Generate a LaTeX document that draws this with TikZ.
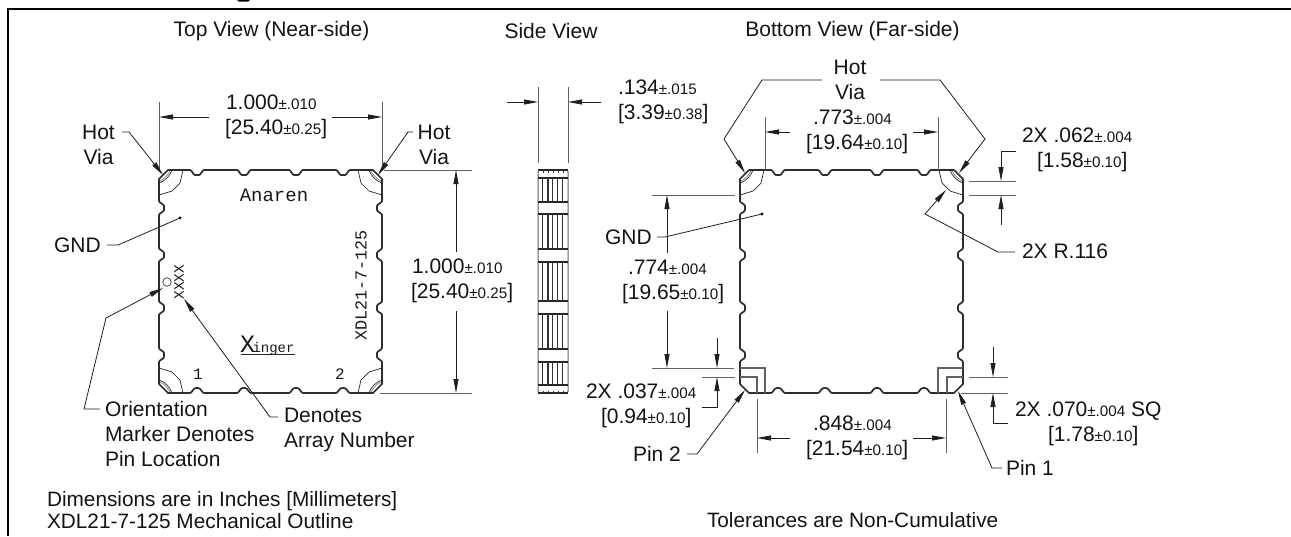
\documentclass[tikz,border=0pt]{standalone}
\usepackage{fontspec}
\usepackage{graphicx}
\usetikzlibrary{arrows.meta}
\setmainfont{Liberation Sans}
\newfontfamily\cadfont{Liberation Mono}
\newcommand{\tol}[2]{#1{\fontsize{15.2}{15}\selectfont ±#2}}
\newcommand{\topn}[1]{-- ({#1-7},0) .. controls ({#1-5},0) and ({#1-4},5) .. ({#1-2},5) -- ({#1+2},5) .. controls ({#1+4},5) and ({#1+5},0) .. ({#1+7},0)}
\newcommand{\rtn}[1]{-- (223,{#1-7}) .. controls (223,{#1-5}) and (218,{#1-4}) .. (218,{#1-2}) -- (218,{#1+2}) .. controls (218,{#1+4}) and (223,{#1+5}) .. (223,{#1+7})}
\newcommand{\botn}[1]{-- ({#1+7},223) .. controls ({#1+5},223) and ({#1+4},218) .. ({#1+1},218) -- ({#1-1},218) .. controls ({#1-4},218) and ({#1-5},223) .. ({#1-7},223)}
\newcommand{\lfn}[1]{-- (0,{#1+7}) .. controls (0,{#1+5}) and (5,{#1+4}) .. (5,{#1+2}) -- (5,{#1-2}) .. controls (5,{#1-4}) and (0,{#1-5}) .. (0,{#1-7})}
\newcommand{\outlinepath}{\draw[edge] (0,9) -- (9,0) \topn{38} \topn{85} \topn{137} \topn{184} -- (214,0) -- (223,9) \rtn{38} \rtn{85} \rtn{138} \rtn{185} -- (223,214) -- (214,223) \botn{184} \botn{137} \botn{85} \botn{38} -- (9,223) -- (0,214) \lfn{185} \lfn{138} \lfn{85} \lfn{38} -- cycle;}
\newcommand{\cornerdetail}{%
  \draw[thinl] (24,0) -- (21,13) -- (13,21) -- (0,25);
  \draw[thinl] (13,0) .. controls (11,6) and (6,11) .. (0,13);
  \draw[thinl,gray] (11,1) .. controls (9,5) and (5,9) .. (1,11);
}
\tikzset{
  edge/.style={draw=black!82,line width=1.7,line join=round},
  thinl/.style={draw=black!85,line width=.7},
  ext/.style={draw=black!62,line width=1},
  lead/.style={draw=black!88,line width=.8},
  arr/.style={lead,-{Triangle[length=14pt,width=5pt]}},
  lab/.style={anchor=west,inner sep=0,outer sep=0,align=left,font=\fontsize{21}{25}\selectfont,text=black!92},
  clab/.style={lab,anchor=center,align=center},
  cad/.style={inner sep=0,outer sep=0,text=black!90},
  band/.style={draw=black!85,line width=1.1},
  stripe/.style={draw=black!80,line width=.9},
}
\begin{document}
\begin{tikzpicture}[x=1pt,y=-1pt]
\useasboundingbox (0,0) rectangle (1291,536);
\fill[white] (0,0) rectangle (1291,536);
% frame
\coordinate (frameBL) at (8,536); \coordinate (frameTL) at (8,9); \coordinate (frameTR) at (1291,9);
\draw[line width=2.6,black] (frameBL) -- (frameTL) -- (frameTR);
\fill[black] (237,0) -- (250,0) -- (248,1.6) -- (239,1.6) -- cycle;
% titles
\node[clab] (tTop) at (271.5,31) {Top View (Near-side)};
\node[clab] (tSide) at (551,31) {Side View};
\node[clab] (tBot) at (852.5,31) {Bottom View (Far-side)};
% top view outline
\begin{scope}[shift={(159,170)}]
 \outlinepath
\end{scope}
\foreach \cx/\cy/\sx/\sy in {159/170/1/1,382/170/-1/1,159/393/1/-1,382/393/-1/-1}{
 \begin{scope}[shift={(\cx,\cy)},xscale=\sx,yscale=\sy]\cornerdetail\end{scope}}
\node[draw=black!80,circle,minimum size=8.5pt,inner sep=0,line width=.7] (orient) at (167,282) {};
\node[cad,font=\cadfont\fontsize{19}{19}\selectfont] (anaren) at (274,195) {Anaren};
\node[cad,font=\cadfont\fontsize{16.8}{17}\selectfont,rotate=90] (xdl) at (361,285.5) {XDL21-7-125};
\node[cad,font=\cadfont\fontsize{14.5}{14}\selectfont,rotate=90] (xxxx) at (179,282) {XXXX};
\node[cad,font=\cadfont\fontsize{16}{16}\selectfont] (one) at (198,374) {1};
\node[cad,font=\cadfont\fontsize{16}{16}\selectfont] (two) at (340,374) {2};
\node[cad,font=\cadfont\fontsize{14}{14}\selectfont,anchor=base west] (xinger) at (240,352.5) {{\fontsize{25}{25}\selectfont X}\kern-2.5pt inger};
\coordinate (ulA) at (241,354.5); \coordinate (ulB) at (295,354.5);
\draw[thinl,line width=.9] (ulA) -- (ulB);
% top view dimensions
\coordinate (e1a) at (159,102); \coordinate (e1b) at (159,170); \draw[ext] (e1a) -- (e1b);
\coordinate (e2a) at (382,102); \coordinate (e2b) at (382,170); \draw[ext] (e2a) -- (e2b);
\coordinate (a1) at (209,117); \coordinate (a1t) at (159,117); \draw[arr] (a1) -- (a1t);
\coordinate (a2) at (332,117); \coordinate (a2t) at (382,117); \draw[arr] (a2) -- (a2t);
\node[lab] (d1) at (225,116.5) {\hspace*{1pt}\tol{1.000}{.010}\\{}[\tol{25.40}{0.25}]};
\coordinate (e3a) at (384,170); \coordinate (e3b) at (472,170); \draw[ext] (e3a) -- (e3b);
\coordinate (e4a) at (380,393); \coordinate (e4b) at (472,393); \draw[ext] (e4a) -- (e4b);
\coordinate (a3) at (456,252); \coordinate (a3t) at (456,170); \draw[arr] (a3) -- (a3t);
\coordinate (a4) at (456,311); \coordinate (a4t) at (456,393); \draw[arr] (a4) -- (a4t);
\node[lab] (d2) at (411,280.5) {\hspace*{1pt}\tol{1.000}{.010}\\{}[\tol{25.40}{0.25}]};
% top view leaders
\node[clab] (hotL) at (98.5,145) {Hot\\Via};
\coordinate (h1) at (122,132); \coordinate (h1b) at (129,132); \coordinate (h1t) at (163,175);
\draw[arr] (h1) -- (h1b) -- (h1t);
\node[clab] (hotR) at (434,145) {Hot\\Via};
\coordinate (h2) at (413,132); \coordinate (h2b) at (408,132); \coordinate (h2t) at (378,175);
\draw[arr] (h2) -- (h2b) -- (h2t);
\node[lab] (gnd1) at (54,245) {GND};
\coordinate (g1) at (107,245); \coordinate (g1b) at (118,245); \coordinate (g1t) at (180,218);
\draw[lead] (g1) -- (g1b) -- (g1t); \fill[black] (g1t) circle (1.6);
\node[lab] (orientL) at (105,434) {Orientation\\Marker Denotes\\Pin Location};
\coordinate (o1) at (100,409); \coordinate (o1b) at (84,409); \coordinate (o1c) at (106,318); \coordinate (o1t) at (163,288);
\draw[arr] (o1) -- (o1b) -- (o1c) -- (o1t);
\node[lab] (denL) at (284,429.5) {Denotes\\Array Number};
\coordinate (n1) at (278,417); \coordinate (n1b) at (270,417); \coordinate (n1t) at (184,299);
\draw[arr] (n1) -- (n1b) -- (n1t);
% side view
\coordinate (s1a) at (538,87); \coordinate (s1b) at (538,163); \draw[ext] (s1a) -- (s1b);
\coordinate (s2a) at (568,87); \coordinate (s2b) at (568,163); \draw[ext] (s2a) -- (s2b);
\coordinate (s3) at (507,102); \coordinate (s3t) at (538,102); \draw[arr] (s3) -- (s3t);
\coordinate (s4) at (601,102); \coordinate (s4t) at (568,102); \draw[arr] (s4) -- (s4t);
\node[lab] (d3) at (618,101.5) {\tol{.134}{.015}\\{}[\tol{3.39}{0.38}]};
\draw[ext,rounded corners=1.5pt] (538,393) -- (538,170) -- (568,170) -- (568,393) -- cycle;
\draw[band] (538,170) -- (568,170);
\draw[band] (538,393) -- (568,393);
\foreach \ya/\yb in {178/202,214/249,262/301,314/349,362/385}{
  \draw[band] (538,\ya) -- (568,\ya);
  \draw[band] (538,\yb) -- (568,\yb);
  \foreach \xs in {542.5,547.2,548.4,552.7,557.7,562.7}{\draw[stripe] (\xs,\ya) -- (\xs,\yb);}
}
\foreach \xs in {543,548,553,558,563}{
  \draw[stripe] (\xs,170) -- (\xs,172.5);
  \draw[stripe] (\xs,390.5) -- (\xs,393);
}
% bottom view outline
\begin{scope}[shift={(740,170)}]
 \outlinepath
\end{scope}
\foreach \cx/\sx in {740/1,963/-1}{
 \begin{scope}[shift={(\cx,170)},xscale=\sx]\cornerdetail\end{scope}}
\draw[ext,line width=1.1] (740,368) -- (765,368) -- (765,393);
\draw[ext,line width=1.1] (740,377) -- (757,377) -- (757,393);
\draw[ext,line width=1.1] (963,368) -- (938,368) -- (938,393);
\draw[ext,line width=1.1] (963,377) -- (947,377) -- (947,393);
% bottom view dims
\node[clab] (hotB) at (850,80) {Hot\\Via};
\node[lab] (d4) at (806,131.5) {\hspace*{7pt}\tol{.773}{.004}\\{}[\tol{19.64}{0.10}]};
\coordinate (b1) at (822,80); \coordinate (b1b) at (762,80); \coordinate (b1c) at (724,139); \coordinate (b1t) at (745,173);
\draw[arr] (b1) -- (b1b) -- (b1c) -- (b1t);
\coordinate (b2) at (880,80); \coordinate (b2b) at (940,80); \coordinate (b2c) at (985,139); \coordinate (b2t) at (959,173);
\draw[arr] (b2) -- (b2b) -- (b2c) -- (b2t);
\coordinate (e5a) at (765,117); \coordinate (e5b) at (765,170); \draw[ext] (e5a) -- (e5b);
\coordinate (e6a) at (938,117); \coordinate (e6b) at (938,170); \draw[ext] (e6a) -- (e6b);
\coordinate (a5) at (790,132); \coordinate (a5t) at (765,132); \draw[arr] (a5) -- (a5t);
\coordinate (a6) at (913,132); \coordinate (a6t) at (938,132); \draw[arr] (a6) -- (a6t);
\node[lab] (d5) at (1022,149.5) {2X \tol{.062}{.004}\\\hspace*{15pt}[\tol{1.58}{0.10}]};
\coordinate (e7a) at (969,181); \coordinate (e7b) at (1016,181); \draw[ext] (e7a) -- (e7b);
\coordinate (e8a) at (969,195); \coordinate (e8b) at (1016,195); \draw[ext] (e8a) -- (e8b);
\coordinate (a7) at (1016,151); \coordinate (a7b) at (1001,151); \coordinate (a7t) at (1001,181);
\draw[arr] (a7) -- (a7b) -- (a7t);
\coordinate (a8) at (1001,225); \coordinate (a8t) at (1001,195); \draw[arr] (a8) -- (a8t);
\node[lab] (r116) at (1022,251) {2X R.116};
\coordinate (r1) at (1015,252); \coordinate (r1b) at (998,252); \coordinate (r1c) at (925,214); \coordinate (r1t) at (946,190);
\draw[arr] (r1) -- (r1b) -- (r1c) -- (r1t);
\node[lab] (gnd2) at (605,237) {GND};
\coordinate (g2) at (657,237); \coordinate (g2b) at (665,237); \coordinate (g2t) at (762,214);
\draw[lead] (g2) -- (g2b) -- (g2t); \fill[black] (g2t) circle (1.6);
\coordinate (e9a) at (652,195); \coordinate (e9b) at (735,195); \draw[ext] (e9a) -- (e9b);
\coordinate (e10a) at (652,368); \coordinate (e10b) at (734,368); \draw[ext] (e10a) -- (e10b);
\coordinate (a9) at (667,253); \coordinate (a9t) at (667,195); \draw[arr] (a9) -- (a9t);
\coordinate (a10) at (667,311); \coordinate (a10t) at (667,368); \draw[arr] (a10) -- (a10t);
\node[lab] (d6) at (622,281.5) {\hspace*{6pt}\tol{.774}{.004}\\{}[\tol{19.65}{0.10}]};
\coordinate (e11a) at (702,377); \coordinate (e11b) at (735,377); \draw[ext] (e11a) -- (e11b);
\coordinate (a11) at (717,338); \coordinate (a11t) at (717,368); \draw[arr] (a11) -- (a11t);
\coordinate (a12) at (702,407); \coordinate (a12b) at (717,407); \coordinate (a12t) at (717,377);
\draw[arr] (a12) -- (a12b) -- (a12t);
\node[lab] (d7) at (586,405.5) {2X \tol{.037}{.004}\\\hspace*{15pt}[\tol{0.94}{0.10}]};
\node[lab] (pin2) at (633,454) {Pin 2};
\coordinate (p2) at (687,454); \coordinate (p2b) at (697,454); \coordinate (p2t) at (745,390);
\draw[arr] (p2) -- (p2b) -- (p2t);
\node[lab] (pin1) at (1006,468) {Pin 1};
\coordinate (p1) at (1002,468); \coordinate (p1b) at (992,468); \coordinate (p1t) at (958,391);
\draw[arr] (p1) -- (p1b) -- (p1t);
\coordinate (e12a) at (757,399); \coordinate (e12b) at (757,453); \draw[ext] (e12a) -- (e12b);
\coordinate (e13a) at (946,399); \coordinate (e13b) at (946,453); \draw[ext] (e13a) -- (e13b);
\coordinate (a13) at (790,438); \coordinate (a13t) at (757,438); \draw[arr] (a13) -- (a13t);
\coordinate (a14) at (913,438); \coordinate (a14t) at (946,438); \draw[arr] (a14) -- (a14t);
\node[lab] (d8) at (806,437.5) {\hspace*{7pt}\tol{.848}{.004}\\{}[\tol{21.54}{0.10}]};
\coordinate (e14a) at (969,377); \coordinate (e14b) at (1008,377); \draw[ext] (e14a) -- (e14b);
\coordinate (e15a) at (961,393); \coordinate (e15b) at (1008,393); \draw[ext] (e15a) -- (e15b);
\coordinate (a15) at (993,347); \coordinate (a15t) at (993,377); \draw[arr] (a15) -- (a15t);
\coordinate (a16) at (1008,423); \coordinate (a16b) at (993,423); \coordinate (a16t) at (993,393);
\draw[arr] (a16) -- (a16b) -- (a16t);
\node[lab] (d9) at (1015,423.5) {2X \tol{.070}{.004} SQ\\\hspace*{33pt}[\tol{1.78}{0.10}]};
% notes
\node[lab,font=\fontsize{20.8}{22}\selectfont] (note1) at (47,510.5) {Dimensions are in Inches [Millimeters]\\XDL21-7-125 Mechanical Outline};
\node[lab,font=\fontsize{20.8}{22}\selectfont] (note2) at (707,520) {Tolerances are Non-Cumulative};
\end{tikzpicture}
\end{document}
